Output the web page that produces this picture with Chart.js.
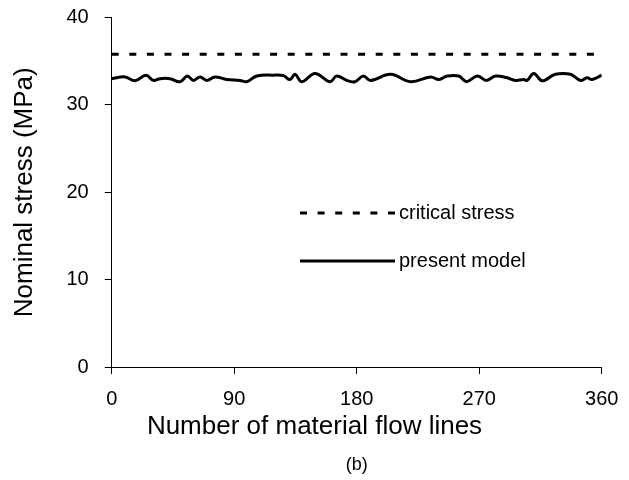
<!DOCTYPE html>
<html>
<head>
<meta charset="utf-8">
<script src="https://cdn.jsdelivr.net/npm/chart.js@4/dist/chart.umd.min.js"></script>
<style>
  html, body { margin: 0; padding: 0; background: #fff; }
</style>
</head>
<body>
<canvas id="grafico" width="629" height="480"></canvas>
<script>
// Data
const modelX = [0, 9.8, 17.2, 25.2, 30.6, 35.5, 42.8, 50.2, 55.6, 60,
  64.9, 69.8, 75.9, 84.5, 94.3, 99.2, 106.6, 118.8, 126.1, 131,
  134.7, 139.6, 149.4, 160.4, 165.3, 172.6, 178.7, 184.9, 190.2, 204.9,
  219.6, 234.3, 240.4, 246.5, 255, 260.7, 268.5, 275.3, 282, 290.5,
  296.6, 302.8, 305.2, 310.1, 316.3, 326, 337, 344.4, 349.3, 353, 360];
const modelY = [33.0, 33.2, 32.75, 33.4, 32.8, 33.0, 33.0, 32.65, 33.3, 32.8,
  33.2, 32.8, 33.2, 32.9, 32.8, 32.65, 33.3, 33.4, 33.35, 32.9,
  33.5, 32.65, 33.6, 32.65, 33.3, 32.8, 32.65, 33.3, 32.8, 33.5,
  32.65, 33.2, 32.9, 33.3, 33.3, 32.65, 33.3, 32.8, 33.3, 33.1,
  32.8, 32.9, 32.8, 33.6, 32.75, 33.5, 33.5, 32.8, 33.1, 32.9, 33.4];
const criticalX = [0, 360];
const criticalY = [35.8, 35.8];
const xTicks = [0, 90, 180, 270, 360];
const yTicks = [0, 10, 20, 30, 40];
const seriesNames = ["critical stress", "present model"];
const xTitle = "Number of material flow lines";

const FONT = "'Liberation Sans', Arial, sans-serif";
Chart.defaults.font.family = FONT;
Chart.defaults.color = "#000";

function pares(xs, ys) {
  return xs.map((x, i) => ({ x: x, y: ys[i] }));
}

// Legend inside the plot area + x title centred on the figure
const textosExtras = {
  id: "textosExtras",
  afterDatasetsDraw(chart) {
    const ctx = chart.ctx;
    const itens = [
      { y: 213, dash: [7, 10.6] },
      { y: 261, dash: [] }
    ];
    ctx.save();
    itens.forEach((it, i) => {
      ctx.beginPath();
      ctx.setLineDash(it.dash);
      ctx.lineWidth = 3;
      ctx.strokeStyle = "#000";
      ctx.moveTo(300, it.y);
      ctx.lineTo(395, it.y);
      ctx.stroke();
      ctx.setLineDash([]);
      ctx.fillStyle = "#000";
      ctx.font = "20px " + FONT;
      ctx.textBaseline = "middle";
      ctx.textAlign = "left";
      ctx.fillText(seriesNames[i], 399, it.y);
    });

    // axis title sits on the figure centre, not the plot centre
    ctx.font = "26px " + FONT;
    ctx.textAlign = "center";
    ctx.textBaseline = "middle";
    ctx.fillText(xTitle, chart.width / 2, 427);
    ctx.restore();
  }
};

// keep the plot area where the picture has it
function semPadding(s) {
  s.paddingTop = 0;
  s.paddingBottom = 0;
  s.paddingLeft = 0;
  s.paddingRight = 0;
}

new Chart(document.getElementById("grafico"), {
  type: "scatter",
  data: {
    datasets: [
      {
        label: seriesNames[0],
        data: pares(criticalX, criticalY),
        showLine: true,
        borderColor: "#000",
        borderWidth: 3,
        borderDash: [7, 10.6],
        pointRadius: 0
      },
      {
        label: seriesNames[1],
        data: pares(modelX, modelY),
        showLine: true,
        borderColor: "#000",
        borderWidth: 3,
        tension: 0.4,
        pointRadius: 0
      }
    ]
  },
  options: {
    responsive: false,
    animation: false,
    devicePixelRatio: 1,
    layout: { padding: { top: 17.5, right: 27.3, left: 0, bottom: 0 } },
    plugins: {
      legend: { display: false },
      tooltip: { enabled: false },
      title: {
        display: true,
        position: "bottom",
        fullSize: false,
        text: "(b)",
        font: { size: 18, weight: "normal" },
        padding: { top: 0, bottom: 4 }
      }
    },
    scales: {
      x: {
        type: "linear",
        min: 0,
        max: 360,
        afterBuildTicks: s => { s.ticks = xTicks.map(v => ({ value: v })); },
        afterFit: s => { s.height = 87.4; semPadding(s); },
        ticks: { font: { size: 20 }, padding: 13, maxRotation: 0 },
        grid: { drawOnChartArea: false, drawTicks: true, tickLength: 7, color: "#000" },
        border: { display: true, color: "#000", width: 1 },
        title: { display: false }
      },
      y: {
        min: 0,
        max: 40,
        afterBuildTicks: s => { s.ticks = yTicks.map(v => ({ value: v })); },
        afterFit: s => { s.width = 111.7; semPadding(s); },
        ticks: { font: { size: 20 }, padding: 16 },
        grid: { drawOnChartArea: false, drawTicks: true, tickLength: 7, color: "#000" },
        border: { display: true, color: "#000", width: 1 },
        title: {
          display: true,
          text: "Nominal stress (MPa)",
          font: { size: 26 },
          padding: { top: 9, bottom: 0 }
        }
      }
    }
  },
  plugins: [textosExtras]
});
</script>
</body>
</html>
